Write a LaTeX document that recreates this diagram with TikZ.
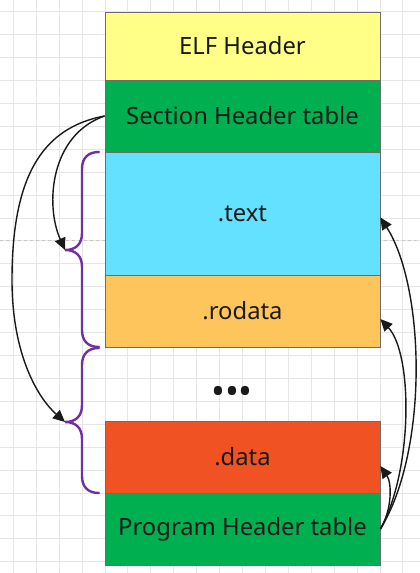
\documentclass[tikz,border=0pt]{standalone}
\usepackage{fontspec}
\setmainfont{Noto Sans}
\usetikzlibrary{arrows.meta}
\definecolor{elfYellow}{HTML}{FFFF88}
\definecolor{elfGreen}{HTML}{00B050}
\definecolor{elfCyan}{HTML}{63E1FF}
\definecolor{elfOrange}{HTML}{FDC55C}
\definecolor{elfRed}{HTML}{F15223}
\definecolor{elfPurple}{HTML}{7030A0}
\definecolor{elfGrid}{HTML}{E6E6E6}
\definecolor{elfInk}{HTML}{1A1A1A}

\begin{document}
\begin{tikzpicture}[
  x=1pt, y=-1pt,
  seg/.style={draw=gray!85!black, line width=0.8pt, minimum width=275pt, inner sep=0pt,
              font=\fontsize{23.8}{28}\selectfont, text=elfInk},
  conn/.style={-{Triangle[length=12pt,width=11pt]}, draw=elfInk, line width=1.4pt},
  brc/.style={draw=elfPurple, line width=2.4pt, line cap=round},
  gridln/.style={draw=elfGrid, line width=0.9pt}
]
\useasboundingbox (0,0) rectangle (420,573);
\fill[white] (0,0) rectangle (420,573);

% ---- background grid
\foreach \k in {0,...,17}{\draw[gridln] (13.3+22.92*\k,0) -- (13.3+22.92*\k,573);}
\foreach \k in {0,...,24}{\draw[gridln] (0,11.7+22.92*\k) -- (420,11.7+22.92*\k);}
\draw[draw=gray!45, line width=0.9pt, dashed] (0,240.9) -- (420,240.9);

% ---- file layout
\node[seg, fill=elfYellow, minimum height=68pt]  (elf)    at (242.5,46)    {ELF Header};
\node[seg, fill=elfGreen,  minimum height=72pt]  (sec)    at (242.5,116)   {Section Header table};
\node[seg, fill=elfCyan,   minimum height=123pt] (text)   at (242.5,213.5) {.text};
\node[seg, fill=elfOrange, minimum height=72pt]  (rodata) at (242.5,311)   {.rodata};
\node[seg, fill=elfRed,    minimum height=72pt]  (data)   at (242.5,457)   {.data};
\node[seg, fill=elfGreen,  minimum height=72pt]  (prog)   at (242.5,529)   {Program Header table};
\node[font=\fontsize{37}{37}\selectfont, text=elfInk, inner sep=0pt] (dots) at (232,395) {•••};

% ---- braces
\draw[brc] (99,152) .. controls (88,152) and (82,158) .. (82,169) -- (82,233)
  .. controls (82,244) and (76,250) .. (65,250) .. controls (76,250) and (82,256) .. (82,267)
  -- (82,330) .. controls (82,341) and (88,347) .. (99,347);
\draw[brc] (99,348) .. controls (88,348) and (82,354) .. (82,365) -- (82,405)
  .. controls (82,416) and (76,422) .. (65,422) .. controls (76,422) and (82,428) .. (82,439)
  -- (82,476) .. controls (82,487) and (88,493) .. (99,493);
\coordinate (tipA) at (65,250);
\coordinate (tipB) at (65,422);

% ---- section header links
\draw[conn] (sec.west) .. controls (50,135) and (45,205) .. (tipA);
\draw[conn] (sec.west) .. controls (40,128) and (12,180) .. (12,280)
  .. controls (12,355) and (38,398) .. (tipB);

% ---- program header links
\draw[conn] (prog.east) .. controls (392,510) and (392,483) .. ([yshift=-9pt]data.east);
\draw[conn] (prog.east) .. controls (413,470) and (413,354) .. ([yshift=-8pt]rodata.east);
\draw[conn] (prog.east) .. controls (429,450) and (425,287) .. ([yshift=-4pt]text.east);
\end{tikzpicture}
\end{document}
